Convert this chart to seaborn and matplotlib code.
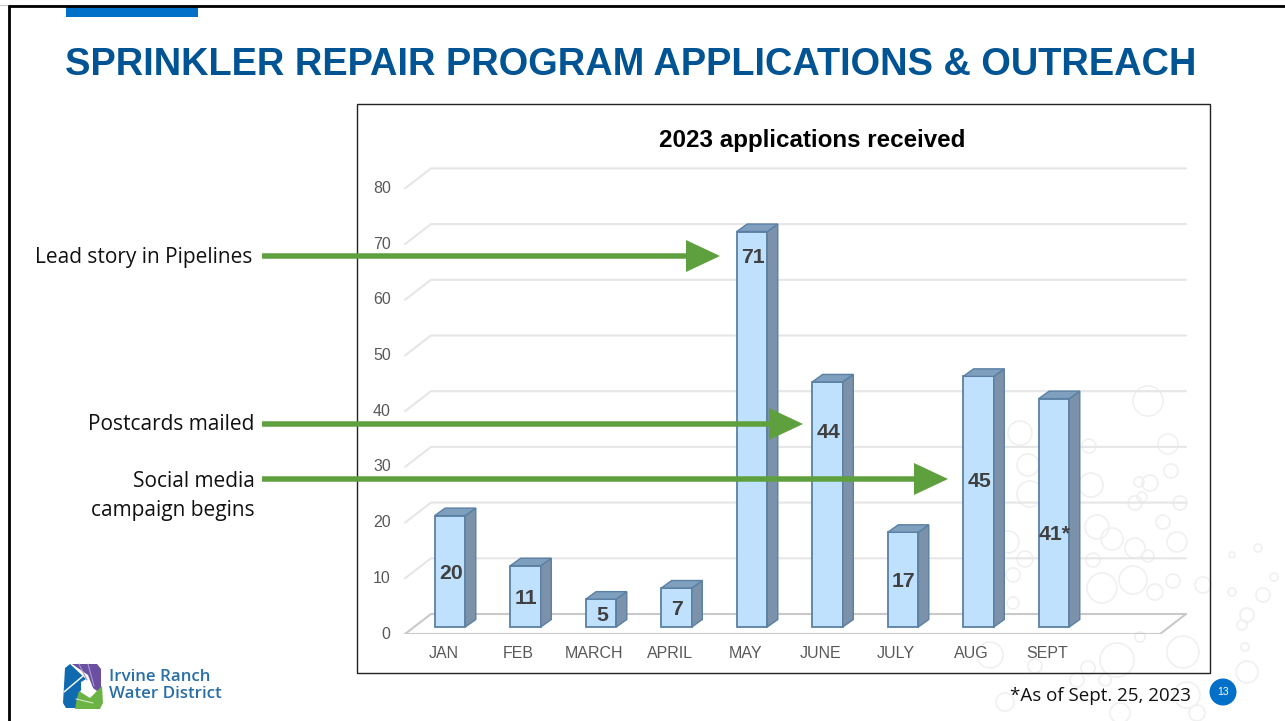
import pandas as pd
import seaborn as sns
import matplotlib.pyplot as plt
from matplotlib.patches import Circle, FancyArrow, Polygon, Rectangle

# Chart values
months = ['JAN', 'FEB', 'MARCH', 'APRIL', 'MAY', 'JUNE', 'JULY', 'AUG', 'SEPT']
applications = [20, 11, 5, 7, 71, 44, 17, 45, 41]
value_labels = ['20', '11', '5', '7', '71', '44', '17', '45', '41*']
label_heights = [10, 5.5, 2.5, 3.5, 66.7, 35.3, 8.5, 26.4, 16.9]
y_ticks = [0, 10, 20, 30, 40, 50, 60, 70, 80]

# Callouts: text lines, arrow height and arrow tip in slide pixels
callout_text = ['Lead story in Pipelines', 'Postcards mailed', 'Social media\ncampaign begins']
callout_y = [256, 424, 479]
callout_tip = [720, 803, 948]

# Background bubbles of the slide template (x, y, radius in pixels)
bubbles = [(1148, 401, 15), (1020, 433, 12), (1089, 446, 7), (1168, 444, 10), (1028, 465, 11),
           (1171, 471, 7), (1150, 483, 8), (1139, 482, 5), (1091, 485, 12), (1030, 494, 13),
           (1135, 503, 7), (1142, 497, 5), (1180, 503, 7), (1163, 522, 7), (1097, 527, 12),
           (1112, 539, 11), (1135, 548, 10), (1177, 542, 10), (1008, 542, 11), (1025, 559, 8),
           (1148, 556, 6), (1093, 560, 7), (1258, 548, 4), (1232, 555, 3), (1102, 588, 15),
           (1133, 580, 14), (1155, 592, 8), (1173, 581, 7), (1203, 585, 8), (1013, 575, 7),
           (1013, 603, 6), (1117, 660, 17), (1183, 652, 16), (990, 655, 13), (1035, 666, 7),
           (1088, 668, 7), (1247, 672, 11), (1263, 595, 7), (1247, 615, 7), (1274, 577, 4),
           (1232, 592, 4), (1242, 625, 5), (1245, 647, 4), (1187, 695, 13), (1005, 702, 9),
           (1077, 680, 7), (1120, 713, 10), (1197, 713, 8), (1105, 680, 6), (1140, 637, 5)]

W, H = 1285, 721
BLUE_TITLE = '#005493'
BLUE_BAR = '#0070c8'
GREEN = '#5fa03e'
SANS = ['Liberation Sans', 'DejaVu Sans']
SLIDE = ['Open Sans', 'DejaVu Sans']

sns.set_theme(style='white')
plt.rcParams['font.family'] = SANS

fig = plt.figure(figsize=(W / 100, H / 100), dpi=100, facecolor='white')

# Slide background, in pixel coordinates
bg = fig.add_axes([0, 0, 1, 1], zorder=0)
bg.set_xlim(0, W)
bg.set_ylim(H, 0)
bg.axis('off')
for x, y, r in bubbles:
    bg.add_patch(Circle((x, y), r, fill=False, ec='#f0f0f0', lw=1.2))
bg.plot([0, W], [4.5, 4.5], color='#c4c4c4', lw=0.8)
bg.plot([9, 9], [6, H], color='black', lw=2)
bg.plot([8.5, W], [6, 6], color='black', lw=2)
bg.add_patch(Rectangle((66, 7), 132, 10, color=BLUE_BAR, lw=0))
bg.add_patch(Rectangle((357, 103.5), 853, 569, fill=False, ec='#222222', lw=1))
bg.text(65, 65, 'SPRINKLER REPAIR PROGRAM APPLICATIONS & OUTREACH', color=BLUE_TITLE,
        fontsize=27.35, fontweight='bold', va='center', ha='left')

# Chart axes: 1 category = 75.5 px, 1 application = 5.57 px
px_x, px_y = 75.5, 5.57
left, right, bottom, top = 397, 1190, 634, 103
ax = fig.add_axes([left / W, 1 - bottom / H, (right - left) / W, (bottom - top) / H], zorder=1)
ax.patch.set_alpha(0)

data = pd.DataFrame({'month': months, 'applications': applications})
sns.barplot(data=data, x='month', y='applications', color='#bfe1fe', saturation=1,
            width=0.405, edgecolor='#5a80a3', linewidth=1.3, ax=ax)

ax.set_xlim((left - 450) / px_x, (right - 450) / px_x)
ax.set_ylim((627 - bottom) / px_y, (627 - top) / px_y)

# Pseudo 3D walls and floor behind the bars
back_dy = 13 / px_y
front_dy = -7 / px_y
x_front, x_back = -45 / px_x, -19 / px_x
x_back_end, x_front_end = 736 / px_x, 710 / px_x
for v in y_ticks:
    c = '#c9c9c9' if v == 0 else '#e6e6e6'
    ax.plot([x_front, x_back, x_back_end], [v + front_dy, v + back_dy, v + back_dy],
            color=c, lw=1.5, zorder=0.5, solid_joinstyle='miter')
ax.plot([x_front, x_front_end, x_back_end], [front_dy, front_dy, back_dy],
        color='#c9c9c9', lw=1.5, zorder=0.5)

# Side and top faces, built from the bars seaborn drew
depth_x, depth_y = 10.5 / px_x, 7.5 / px_y
for bar in ax.patches:
    x0, w, h = bar.get_x(), bar.get_width(), bar.get_height()
    x1 = x0 + w
    ax.add_patch(Polygon([(x1, 0), (x1 + depth_x, depth_y), (x1 + depth_x, h + depth_y), (x1, h)],
                         fc='#7b92aa', ec='#5a80a3', lw=1, zorder=1.5))
    ax.add_patch(Polygon([(x0, h), (x0 + depth_x, h + depth_y), (x1 + depth_x, h + depth_y), (x1, h)],
                         fc='#7f9fbe', ec='#5a80a3', lw=1, zorder=1.5))
for i, (label, y) in enumerate(zip(value_labels, label_heights)):
    ax.text(i + 0.012, y - 0.35, label, ha='center', va='center', fontsize=15.3,
            fontweight='bold', color='#404040', zorder=3)

ax.set_xticks([i - 0.09 for i in range(len(months))], months)
ax.set_yticks([v - 1 for v in y_ticks], y_ticks)
ax.tick_params(axis='x', length=0, pad=8.5, labelsize=11.5, labelcolor='#595959')
ax.tick_params(axis='y', length=0, pad=4.5, labelsize=11.5, labelcolor='#595959')
ax.set_xlabel('')
ax.set_ylabel('')
sns.despine(ax=ax, left=True, bottom=True)

# Annotations on top of the chart, in pixel coordinates
fg = fig.add_axes([0, 0, 1, 1], zorder=2)
fg.set_xlim(0, W)
fg.set_ylim(H, 0)
fg.axis('off')
fg.patch.set_alpha(0)
fg.text(812, 140, '2023 applications received', color='black', fontsize=17.35,
        fontweight='bold', ha='center', va='center')

for y, tip in zip(callout_y, callout_tip):
    fg.add_patch(FancyArrow(262, y, tip - 262, 0, width=5.5, head_width=32, head_length=34,
                            length_includes_head=True, color=GREEN, lw=0))
fg.text(252, 258, callout_text[0], family=SLIDE, fontsize=15, color='#111111', ha='right', va='center')
fg.text(254, 425, callout_text[1], family=SLIDE, fontsize=15, color='#111111', ha='right', va='center')
fg.text(255, 496, callout_text[2], family=SLIDE, fontsize=15, color='#111111', ha='right', va='center',
        linespacing=1.55, multialignment='right')

fg.text(1191, 696, '*As of Sept. 25, 2023', family=SLIDE, fontsize=13.5, color='#111111', ha='right', va='center')
fg.add_patch(Circle((1223, 692), 13.5, color=BLUE_BAR, lw=0))
fg.text(1223, 692, '13', color='white', fontsize=7.5, ha='center', va='center')

# Logo
fg.add_patch(Polygon([(72, 664), (97, 664), (101, 669), (101, 694), (93, 688), (88, 675)], color='#6b4fa0', lw=0))
fg.add_patch(Polygon([(65, 668), (70, 664), (86, 679), (80, 692), (76, 708), (66, 708), (63, 703)], color='#0f6ab0', lw=0))
fg.add_patch(Polygon([(79, 691), (90, 698), (102, 686), (103, 703), (100, 709), (75, 709), (77, 698)], color='#6ab344', lw=0))
fg.add_patch(Polygon([(81, 682), (88, 678), (93, 689), (90, 694), (81, 689)], color='white', lw=0))
fg.plot([64, 83], [692, 676], color='white', lw=1)
fg.plot([79, 87], [664, 680], color='#a99bd0', lw=0.8)
fg.plot([88, 94], [664, 686], color='#a99bd0', lw=0.8)
fg.plot([76, 93], [699, 703], color='#d5e8c8', lw=0.8)
fg.text(109, 677, 'Irvine Ranch', family=SLIDE, fontsize=12.2, fontweight='semibold', color='#2a6ea6', ha='left', va='center')
fg.text(109, 694, 'Water District', family=SLIDE, fontsize=12.2, fontweight='semibold', color='#2a6ea6', ha='left', va='center')

fig.savefig('out.png', dpi=100)
